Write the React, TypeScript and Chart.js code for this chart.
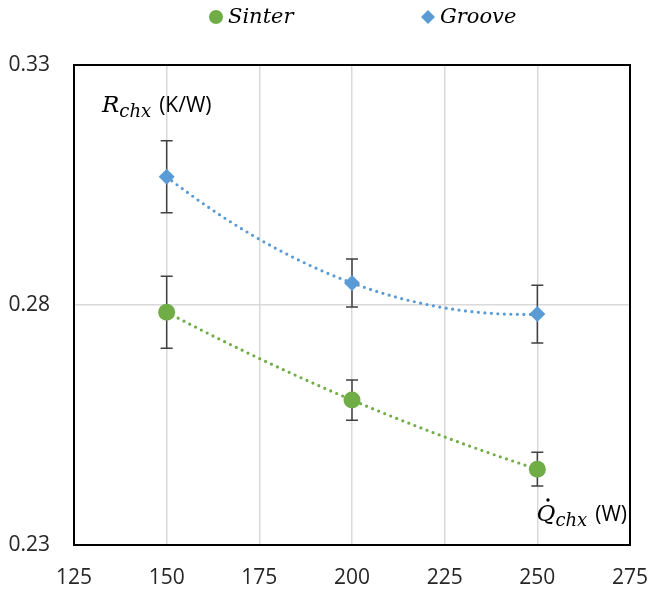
import React, { useEffect, useRef } from "react";
import { Chart, registerables } from "chart.js";

Chart.register(...registerables);

const xValues = [150, 200, 250];
const sinterValues = [0.2785, 0.2602, 0.2458];
const sinterErrors = [0.0075, 0.0042, 0.0035];
const grooveValues = [0.3067, 0.2846, 0.2781];
const grooveErrors = [0.0075, 0.005, 0.006];
const xTicks = [125, 150, 175, 200, 225, 250, 275];
const yTicks = [0.23, 0.28, 0.33];
const seriesNames = ["Sinter", "Groove"];
const seriesColors = ["#70AD47", "#5B9BD5"];

const SANS = "'Open Sans', 'Noto Sans', sans-serif";
const MATH = "'DejaVu Serif', serif";

const errors = [sinterErrors, grooveErrors];

function quad(xs: number[], ys: number[], x: number) {
  let s = 0;
  for (let i = 0; i < xs.length; i++) {
    let l = 1;
    for (let j = 0; j < xs.length; j++) {
      if (j !== i) l *= (x - xs[j]) / (xs[i] - xs[j]);
    }
    s += ys[i] * l;
  }
  return s;
}

const decorPlugin = {
  id: "decor",
  beforeDatasetsDraw(chart: any) {
    const { ctx, chartArea, scales } = chart;
    const xs = scales.x;
    const ys = scales.y;
    ctx.save();
    ctx.strokeStyle = "#000";
    ctx.lineWidth = 2;
    ctx.strokeRect(chartArea.left, chartArea.top, chartArea.right - chartArea.left, chartArea.bottom - chartArea.top);
    chart.data.datasets.forEach((ds: any, i: number) => {
      const px = ds.data.map((d: any) => d.x);
      const py = ds.data.map((d: any) => d.y);
      ctx.beginPath();
      ctx.strokeStyle = seriesColors[i];
      ctx.lineWidth = 3.2;
      ctx.lineCap = "round";
      ctx.setLineDash([0, 6.5]);
      const x0 = px[0];
      const x1 = px[px.length - 1];
      for (let k = 0; k <= 200; k++) {
        const xv = x0 + ((x1 - x0) * k) / 200;
        const X = xs.getPixelForValue(xv);
        const Y = ys.getPixelForValue(quad(px, py, xv));
        if (k === 0) ctx.moveTo(X, Y);
        else ctx.lineTo(X, Y);
      }
      ctx.stroke();
    });
    ctx.setLineDash([]);
    ctx.lineCap = "butt";
    chart.data.datasets.forEach((ds: any, i: number) => {
      ds.data.forEach((d: any, j: number) => {
        const e = errors[i][j];
        const X = xs.getPixelForValue(d.x);
        const Y1 = ys.getPixelForValue(d.y + e);
        const Y2 = ys.getPixelForValue(d.y - e);
        ctx.strokeStyle = "#404040";
        ctx.lineWidth = 1.5;
        ctx.beginPath();
        ctx.moveTo(X, Y1);
        ctx.lineTo(X, Y2);
        ctx.moveTo(X - 6, Y1);
        ctx.lineTo(X + 6, Y1);
        ctx.moveTo(X - 6, Y2);
        ctx.lineTo(X + 6, Y2);
        ctx.stroke();
      });
    });
    ctx.restore();
  },
  afterDraw(chart: any) {
    const { ctx, chartArea } = chart;
    ctx.save();
    ctx.fillStyle = "#000";
    const legendY = 17;
    const items = [
      { x: 216, name: seriesNames[0], color: seriesColors[0], shape: "circle" },
      { x: 428, name: seriesNames[1], color: seriesColors[1], shape: "diamond" },
    ];
    items.forEach((it) => {
      ctx.fillStyle = it.color;
      ctx.beginPath();
      if (it.shape === "circle") {
        ctx.arc(it.x, legendY, 7, 0, Math.PI * 2);
      } else {
        ctx.moveTo(it.x, legendY - 7);
        ctx.lineTo(it.x + 7, legendY);
        ctx.lineTo(it.x, legendY + 7);
        ctx.lineTo(it.x - 7, legendY);
        ctx.closePath();
      }
      ctx.fill();
      ctx.fillStyle = "#000";
      ctx.font = `italic 21px ${MATH}`;
      ctx.textBaseline = "middle";
      ctx.fillText(it.name, it.x + 12, legendY + 1);
    });
    ctx.textBaseline = "alphabetic";
    // y axis label
    let x = chartArea.left + 28;
    let base = 112;
    ctx.font = `italic 23px ${MATH}`;
    ctx.fillText("R", x, base);
    x += ctx.measureText("R").width;
    ctx.font = `italic 18px ${MATH}`;
    ctx.fillText("chx", x, base + 5);
    x += ctx.measureText("chx").width + 8;
    ctx.font = `21px ${SANS}`;
    ctx.fillText("(K/W)", x, base);
    // x axis label (right-aligned inside plot)
    base = 521;
    ctx.font = `21px ${SANS}`;
    const ww = ctx.measureText("(W)").width;
    ctx.font = `italic 18px ${MATH}`;
    const cw = ctx.measureText("chx").width;
    ctx.font = `italic 23px ${MATH}`;
    const qw = ctx.measureText("Q").width;
    const end = chartArea.right - 3;
    x = end - ww - 8 - cw - qw;
    ctx.fillText("Q", x, base);
    ctx.beginPath();
    ctx.arc(x + qw / 2 + 2, base - 21, 1.7, 0, Math.PI * 2);
    ctx.fill();
    x += qw;
    ctx.font = `italic 18px ${MATH}`;
    ctx.fillText("chx", x, base + 5);
    x += cw + 8;
    ctx.font = `21px ${SANS}`;
    ctx.fillText("(W)", x, base);
    ctx.restore();
  },
};

export default function App() {
  const ref = useRef<HTMLCanvasElement | null>(null);
  useEffect(() => {
    document.body.style.margin = "0";
    if (!ref.current) return;
    const chart = new Chart(ref.current, {
      type: "scatter",
      data: {
        datasets: [
          {
            label: seriesNames[0],
            data: xValues.map((x, i) => ({ x, y: sinterValues[i] })),
            backgroundColor: seriesColors[0],
            borderColor: seriesColors[0],
            pointStyle: "circle",
            pointRadius: 8.5,
            borderWidth: 0,
          },
          {
            label: seriesNames[1],
            data: xValues.map((x, i) => ({ x, y: grooveValues[i] })),
            backgroundColor: seriesColors[1],
            borderColor: seriesColors[1],
            pointStyle: "rectRot",
            pointRadius: 8,
            borderWidth: 0,
          },
        ],
      },
      options: {
        animation: false,
        responsive: false,
        devicePixelRatio: 1,
        layout: { padding: { top: 65, right: 21, left: 0, bottom: 0 } },
        plugins: { legend: { display: false }, tooltip: { enabled: false } },
        scales: {
          x: {
            type: "linear",
            min: 125,
            max: 275,
            afterBuildTicks: (s: any) => {
              s.ticks = xTicks.map((v) => ({ value: v }));
            },
            afterFit: (s: any) => {
              s.height = 47;
              s.paddingLeft = 0;
              s.paddingRight = 0;
            },
            ticks: {
              autoSkip: false,
              maxRotation: 0,
              padding: 20,
              color: "#262626",
              font: { family: SANS, size: 21 },
              callback: (v: any) => String(v),
            },
            grid: { color: "#D9D9D9", lineWidth: 1.5, drawTicks: false },
            border: { display: false },
          },
          y: {
            type: "linear",
            min: 0.23,
            max: 0.33,
            afterBuildTicks: (s: any) => {
              s.ticks = yTicks.map((v) => ({ value: v }));
            },
            afterFit: (s: any) => {
              s.width = 74;
              s.paddingTop = 0;
              s.paddingBottom = 0;
            },
            ticks: {
              autoSkip: false,
              padding: 24,
              color: "#262626",
              font: { family: SANS, size: 21 },
              callback: (v: any) => Number(v).toFixed(2),
            },
            grid: { color: "#D9D9D9", lineWidth: 1.5, drawTicks: false },
            border: { display: false },
          },
        },
      },
      plugins: [decorPlugin],
    } as any);
    return () => chart.destroy();
  }, []);
  return <canvas ref={ref} width={651} height={592} style={{ display: "block" }} />;
}
